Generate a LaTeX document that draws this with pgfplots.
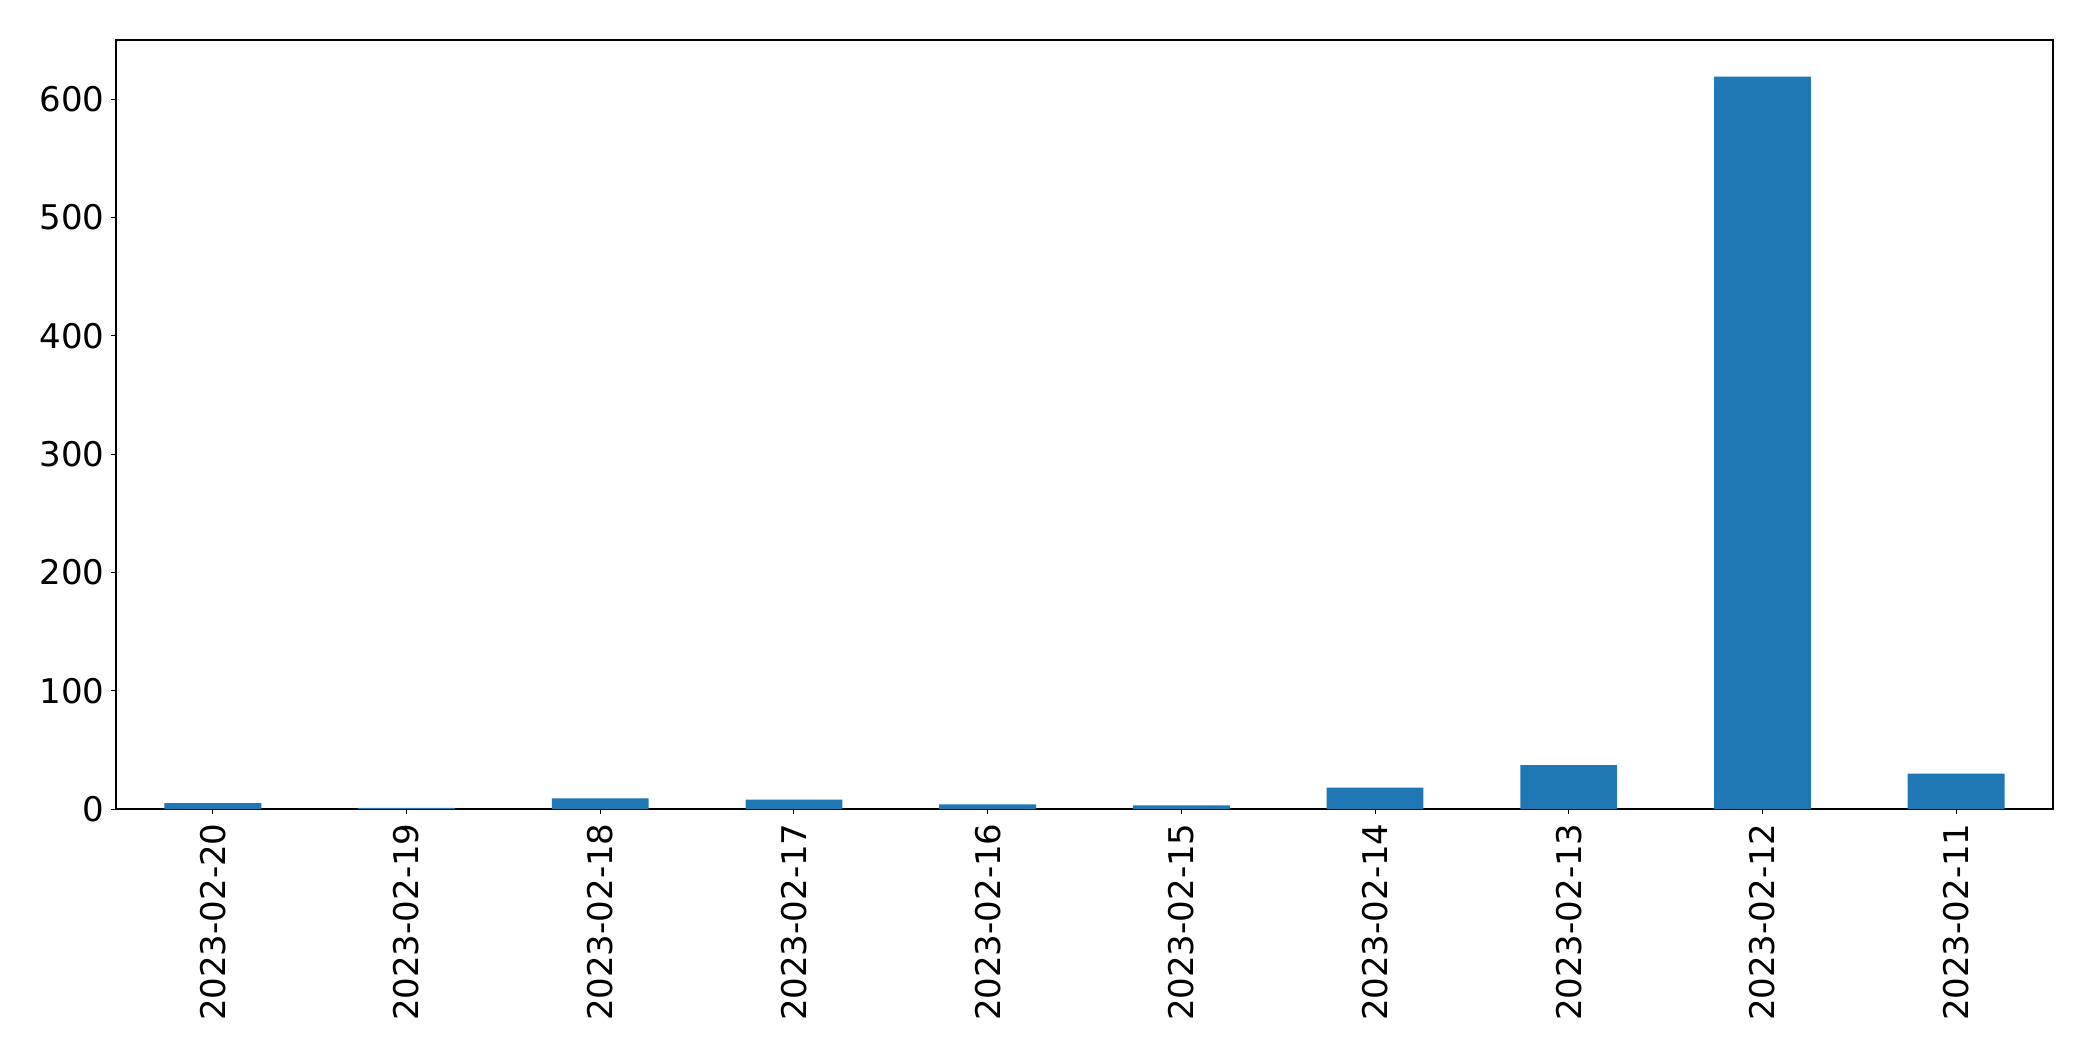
\documentclass[border=0pt]{standalone}
\usepackage{pgfplots}
\pgfplotsset{compat=1.18}
\usepackage{fontspec}
\setmainfont{DejaVu Sans}
\definecolor{mplblue}{HTML}{1F77B4}
\begin{document}
\fontsize{17}{20}\selectfont
\begin{tikzpicture}
\begin{axis}[
  name=ax,
  scale only axis,
  width=968.5pt, height=384.5pt,
  xmin=-0.5, xmax=9.5,
  ymin=0, ymax=650,
  xtick={0,...,9},
  xticklabels={2023-02-20,2023-02-19,2023-02-18,2023-02-17,2023-02-16,2023-02-15,2023-02-14,2023-02-13,2023-02-12,2023-02-11},
  x tick label style={rotate=90, anchor=east, inner sep=4.5pt, font=\fontsize{17}{20}\selectfont},
  y tick label style={inner sep=3pt, font=\fontsize{17}{20}\selectfont},
  ytick={0,100,...,600},
  tick align=outside,
  major tick length=2.5pt,
  tick style={black, line width=0.5pt},
  xtick pos=bottom, ytick pos=left,
  axis line style={black, line width=0.6pt},
  /pgf/number format/assume math mode=true,
  /pgf/number format/1000 sep={},
]
\addplot[ybar, bar width=0.5, fill=mplblue, draw=none, bar shift=0pt] coordinates {
(0,5) (1,1) (2,9) (3,8) (4,4) (5,3) (6,18) (7,37) (8,619) (9,30)
};
\end{axis}
\pgfresetboundingbox
\path ([xshift=-58pt,yshift=-126pt]ax.south west) rectangle ([xshift=20pt,yshift=20pt]ax.north east);
\end{tikzpicture}
\end{document}
